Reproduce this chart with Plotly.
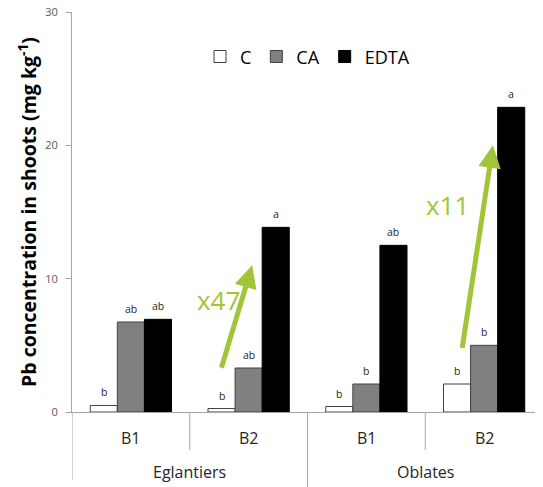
import plotly.graph_objects as go

sites = ["Eglantiers", "Eglantiers", "Oblates", "Oblates"]
plots = ["B1", "B2", "B1", "B2"]
treatments = ["C", "CA", "EDTA"]
values = {
    "C": [0.49, 0.26, 0.41, 2.1],
    "CA": [6.75, 3.3, 2.1, 5.0],
    "EDTA": [6.95, 13.85, 12.5, 22.85],
}
letters = {
    "C": ["b", "b", "b", "b"],
    "CA": ["ab", "ab", "b", "b"],
    "EDTA": ["ab", "a", "ab", "a"],
}
fills = {"C": "#ffffff", "CA": "#808080", "EDTA": "#000000"}
outlines = {"C": "#404040", "CA": "#404040", "EDTA": "#000000"}
fold_labels = ["x47", "x11"]
y_title = "<b>Pb concentration in shoots (mg kg<sup>-1</sup>)</b>"

BARGAP = 0.31
xpos = list(range(len(plots)))
fig = go.Figure()
for t in treatments:
    fig.add_trace(go.Bar(
        x=xpos, y=values[t], name=t,
        marker=dict(color=fills[t], line=dict(color=outlines[t], width=1)),
    ))

# significance letters above bars (offset computed from the grouped-bar geometry)
bw = (1 - BARGAP) / len(treatments)
for k, t in enumerate(treatments):
    off = (k - (len(treatments) - 1) / 2) * bw
    for i in xpos:
        fig.add_annotation(x=i + off, y=values[t][i], xref="x", yref="y", text=letters[t][i],
                           showarrow=False, yanchor="bottom", yshift=4,
                           font=dict(size=10.5, color="#262626", family="Open Sans"))

grey_axis = "#a6a6a6"
fig.update_layout(
    width=535, height=479,
    margin=dict(l=64, r=0, t=4, b=75, autoexpand=False),
    paper_bgcolor="white", plot_bgcolor="white",
    barmode="group", bargap=BARGAP, bargroupgap=0,
    font=dict(family="Open Sans", color="#404040"),
    showlegend=True,
    legend=dict(orientation="h", x=0.5, y=0.888, xanchor="center", yanchor="middle",
                font=dict(size=18, color="#000000"), itemwidth=30,
                bgcolor="rgba(0,0,0,0)"),
    xaxis=dict(range=[-0.5, 3.5], showticklabels=False, showgrid=False, zeroline=False,
               showline=True, linecolor=grey_axis, linewidth=1, ticks="", automargin=False),
    yaxis=dict(range=[0, 30], tickvals=[0, 10, 20, 30], showgrid=False, zeroline=False,
               showline=True, linecolor=grey_axis, linewidth=1, ticks="outside",
               ticklen=5, tickcolor=grey_axis, automargin=False,
               ticklabelstandoff=6, ticklabeloverflow="allow",
               tickfont=dict(size=11, color="#595959", family="Open Sans")),
)

# y-axis title as rotated text
fig.add_annotation(x=-0.0955, y=0.5, xref="paper", yref="paper", text=y_title,
                   textangle=-90, showarrow=False, xanchor="center", yanchor="middle",
                   font=dict(size=19.5, color="#000000", family="Open Sans"))

# category labels
for i, p in enumerate(plots):
    fig.add_annotation(x=xpos[i], y=-0.065, xref="x", yref="paper", text=p, showarrow=False,
                       font=dict(size=16, color="#262626"), yanchor="middle")
groups = []
for i, s in enumerate(sites):
    if not groups or groups[-1][0] != s:
        groups.append([s, [xpos[i]]])
    else:
        groups[-1][1].append(xpos[i])
for s, xs in groups:
    fig.add_annotation(x=sum(xs) / len(xs), y=-0.15, xref="x", yref="paper", text=s,
                       showarrow=False, font=dict(size=16, color="#262626"), yanchor="middle")

# dividers
bounds = [xpos[0] - 0.5] + [x + 0.5 for x in xpos]
for i, b in enumerate(bounds):
    outer = (i == 0) or (i == len(bounds) - 1) or (sites[i - 1] != sites[i] if i < len(sites) else True)
    y1 = -0.17 if i == 0 else (-0.19 if outer and i < len(bounds) - 1 else -0.095)
    fig.add_shape(type="line", xref="x", yref="paper", x0=b, x1=b, y0=0, y1=y1,
                  line=dict(color=grey_axis, width=1))

# fold-increase arrows
green = "#a2c437"
arrows = [
    dict(tail=(0.765, 3.2), tip=(1.03, 11.0), label=(0.74, 8.4)),
    dict(tail=(2.812, 4.7), tip=(3.075, 20.0), label=(2.69, 15.5)),
]
for a, lab in zip(arrows, fold_labels):
    fig.add_annotation(x=a["tip"][0], y=a["tip"][1], ax=a["tail"][0], ay=a["tail"][1],
                       xref="x", yref="y", axref="x", ayref="y", text="",
                       showarrow=True, arrowhead=2, arrowsize=0.9, arrowwidth=5,
                       arrowcolor=green)
    fig.add_annotation(x=a["label"][0], y=a["label"][1], xref="x", yref="y", text=lab,
                       showarrow=False, font=dict(size=26, color=green, family="Open Sans"))

fig.write_html("out.html")
